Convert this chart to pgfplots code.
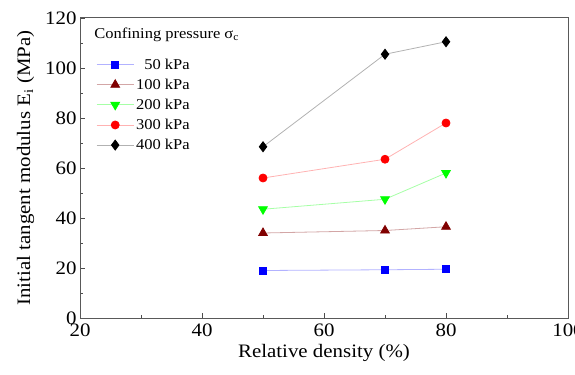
\documentclass[border=0pt]{standalone}
\usepackage{fontspec}
\setmainfont[FakeStretch=1.1]{Liberation Serif}
\usepackage{pgfplots}
\pgfplotsset{compat=1.18}
\definecolor{dred}{RGB}{128,0,0}
\definecolor{dgreen}{RGB}{0,255,0}
\begin{document}
\begin{tikzpicture}
\begin{axis}[
  scale only axis,
  width=488pt, height=300pt,
  xmin=20, xmax=100, ymin=0, ymax=120,
  xtick={20,40,60,80,100}, ytick={0,20,40,60,80,100,120},
  minor xtick={30,50,70,90}, minor ytick={10,30,50,70,90,110},
  tick align=inside, xtick pos=bottom, ytick pos=left,
  major tick length=5pt, minor tick length=3pt,
  axis line style={black!65, line width=1pt},
  every tick/.style={black!70, line width=0.8pt},
  /pgf/number format/assume math mode=true,
  tick label style={font=\fontsize{19}{21}\selectfont},
  xticklabel style={yshift=-2pt},
  label style={font=\fontsize{19}{21}\selectfont},
  xlabel={Relative density (\%)},
  ylabel={Initial tangent modulus E\textsubscript{i} (MPa)},
  xlabel style={yshift=-1pt},
  ylabel style={yshift=4pt},
  legend style={draw=none, fill=none, font=\fontsize{15}{17}\selectfont,
    at={(rel axis cs:0.031,0.875)}, anchor=north west, row sep=4.2pt,
    inner sep=1pt},
  legend cell align=left,
  legend image code/.code={\draw[mark repeat=2,mark phase=2] plot coordinates {(0cm,0cm)(0.65cm,0cm)(1.3cm,0cm)};},
]
\addplot[color=blue!30, line width=0.8pt, mark=square*, mark size=3.6pt, mark options={blue, solid}] coordinates {(50,19.0) (70,19.3) (80,19.5)};
\addlegendentry{\phantom{0}50 kPa}
\addplot[color=dred!35, line width=0.8pt, mark=triangle*, mark size=5pt, mark options={dred, solid}] coordinates {(50,34.0) (70,35.0) (80,36.5)};
\addlegendentry{100 kPa}
\addplot[color=dgreen!35, line width=0.8pt, mark=triangle*, mark size=5pt, mark options={dgreen, solid, rotate=180}] coordinates {(50,43.5) (70,47.5) (80,58.0)};
\addlegendentry{200 kPa}
\addplot[color=red!30, line width=0.8pt, mark=*, mark size=4pt, mark options={red, solid}] coordinates {(50,56.0) (70,63.5) (80,78.0)};
\addlegendentry{300 kPa}
\addplot[color=black!30, line width=0.8pt, mark=diamond*, mark size=5pt, mark options={black, solid}] coordinates {(50,68.5) (70,105.5) (80,110.5)};
\addlegendentry{400 kPa}
\node[anchor=west, font=\fontsize{15}{17}\selectfont, inner sep=0pt] at (rel axis cs:0.029,0.943) {Confining pressure σ\textsubscript{c}};
\coordinate (ll) at (rel axis cs:0,0);
\coordinate (ur) at (rel axis cs:1,1);
\end{axis}
\pgfresetboundingbox
\useasboundingbox ([shift={(-80pt,-56pt)}]ll) rectangle ([shift={(7pt,18pt)}]ur);
\end{tikzpicture}
\end{document}
